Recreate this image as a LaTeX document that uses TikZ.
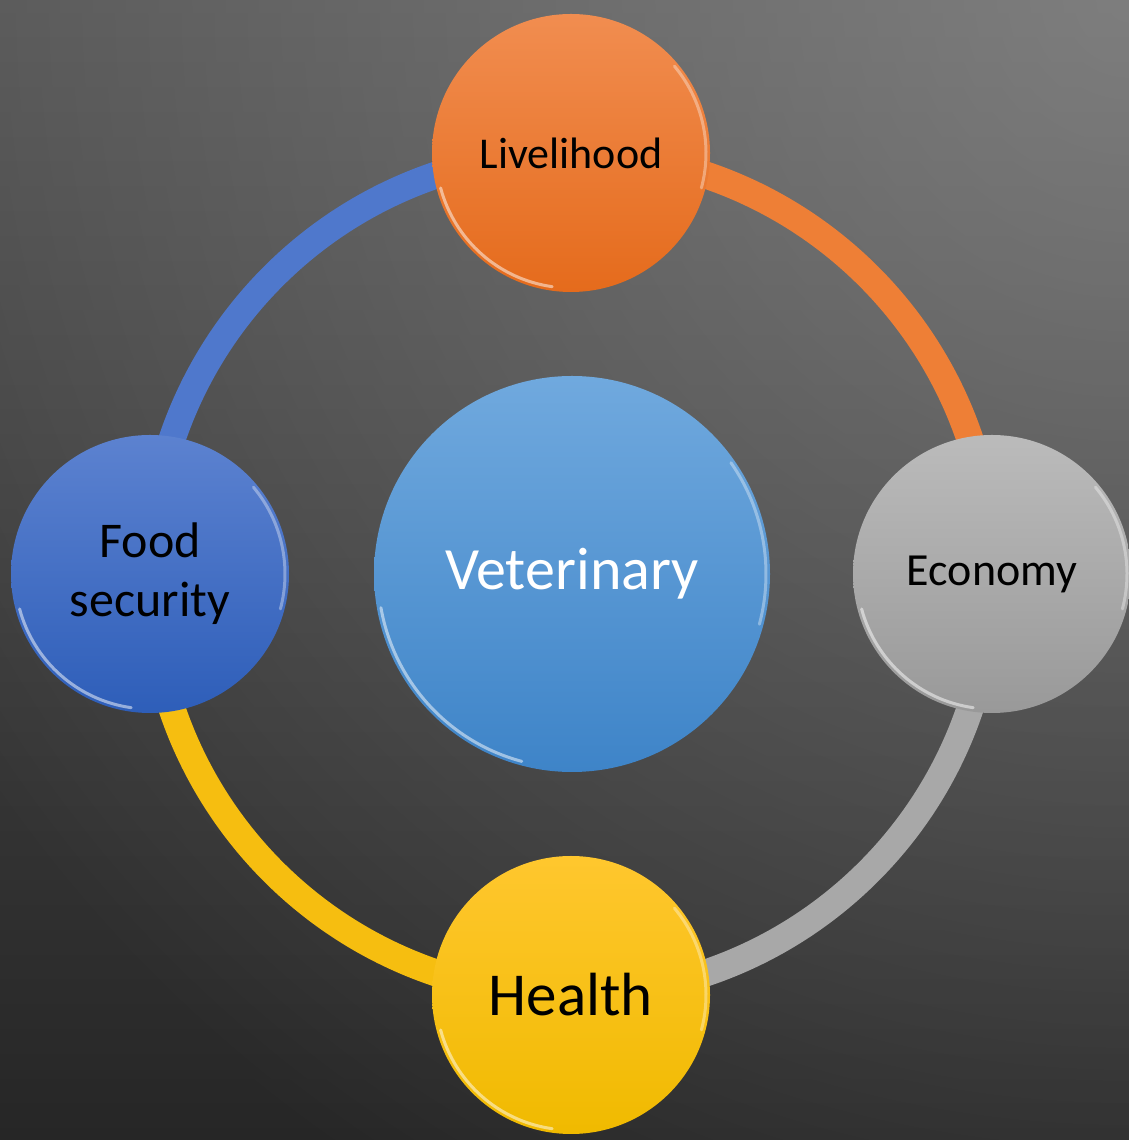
\documentclass[tikz,border=0pt]{standalone}
\usepackage{fontspec}
\setmainfont{Carlito}
\usetikzlibrary{backgrounds,fadings}
\definecolor{bgTop}{HTML}{545454}
\definecolor{bgBot}{HTML}{262626}
\definecolor{glowCol}{HTML}{A8A8A8}
\definecolor{ringBlue}{HTML}{4F78CC}
\definecolor{ringOrange}{HTML}{EE7F36}
\definecolor{ringGray}{HTML}{A8A8A8}
\definecolor{ringYellow}{HTML}{F6BE10}
\definecolor{livTop}{HTML}{F18D50}
\definecolor{livBot}{HTML}{E56B1C}
\definecolor{foodTop}{HTML}{5C82D0}
\definecolor{foodBot}{HTML}{2E5EB9}
\definecolor{ecoTop}{HTML}{BBBBBB}
\definecolor{ecoBot}{HTML}{999999}
\definecolor{healthTop}{HTML}{FFC72E}
\definecolor{healthBot}{HTML}{F0BA00}
\definecolor{vetTop}{HTML}{70A9DE}
\definecolor{vetBot}{HTML}{3E84C8}
\tikzfading[name=glowfade, inner color=transparent!50, outer color=transparent!100]
\begin{document}
\begin{tikzpicture}[x=1pt,y=1pt,
  bubble/.style={circle, minimum size=278pt, inner sep=0pt, align=center, text=black},
  ringarc/.style={line width=27pt},
  rim/.style={white, opacity=.5, line width=3pt, line cap=round}]
\useasboundingbox (0,0) rectangle (1129,1140);
% nodes
\node[bubble, top color=livTop, bottom color=livBot, font=\fontsize{44}{52}\selectfont] (liv) at (571,987) {Livelihood};
\node[bubble, top color=foodTop, bottom color=foodBot, font=\fontsize{50}{59}\selectfont] (food) at (150,566) {Food\\security};
\node[bubble, top color=ecoTop, bottom color=ecoBot, font=\fontsize{46}{54}\selectfont] (eco) at (992,566) {Economy};
\node[bubble, top color=healthTop, bottom color=healthBot, font=\fontsize{61}{70}\selectfont] (health) at (571,145) {Health};
\node[circle, minimum size=396pt, inner sep=0pt, top color=vetTop, bottom color=vetBot, text=white, font=\fontsize{60}{70}\selectfont] (vet) at (572,566) {Veterinary};
% rim highlights
\foreach \n in {liv,food,eco,health}{
  \draw[rim] ([shift={(195:135)}]\n.center) arc[start angle=195, end angle=262, radius=135];
  \draw[rim, opacity=.35] ([shift={(-15:135)}]\n.center) arc[start angle=-15, end angle=40, radius=135];
}
\draw[rim] ([shift={(190:194)}]vet.center) arc[start angle=190, end angle=255, radius=194];
\draw[rim, opacity=.35] ([shift={(-15:194)}]vet.center) arc[start angle=-15, end angle=35, radius=194];
\begin{pgfonlayer}{background}
\shade[top color=bgTop, bottom color=bgBot] (0,0) rectangle (1129,1140);
\fill[glowCol, path fading=glowfade] (1129,1140) circle (1400);
\draw[ringarc, ringBlue] (food.center) arc[start angle=180, end angle=90, radius=421];
\draw[ringarc, ringOrange] (liv.center) arc[start angle=90, end angle=0, radius=421];
\draw[ringarc, ringGray] (eco.center) arc[start angle=0, end angle=-90, radius=421];
\draw[ringarc, ringYellow] (health.center) arc[start angle=-90, end angle=-180, radius=421];
\end{pgfonlayer}
\end{tikzpicture}
\end{document}
